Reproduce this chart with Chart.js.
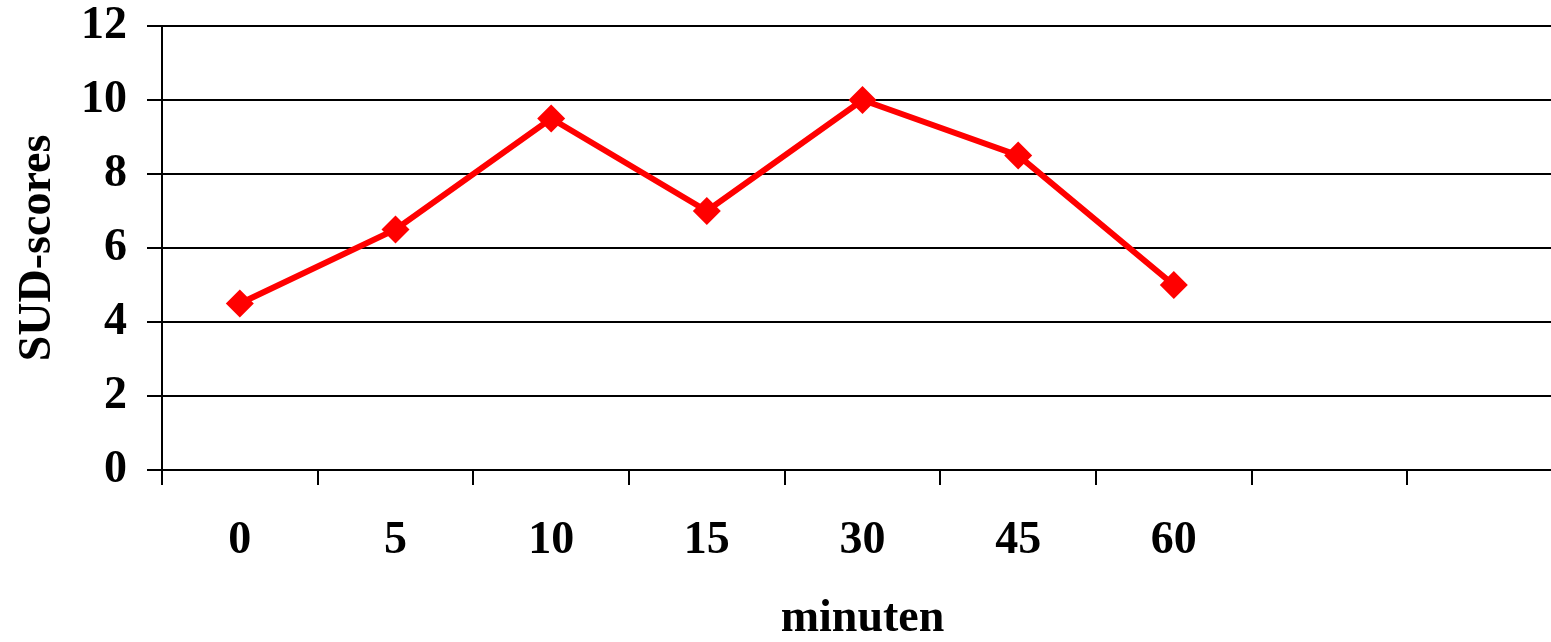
<!DOCTYPE html>
<html>
<head>
<meta charset="utf-8">
<script src="https://cdn.jsdelivr.net/npm/chart.js@4/dist/chart.umd.min.js"></script>
<style>
  html, body { margin: 0; padding: 0; overflow: hidden; background: #fff; }
  canvas { display: block; }
</style>
</head>
<body>
<canvas id="sudChart" width="1577" height="642"></canvas>
<script>
// minutes after start (two empty slots at the end, like the original)
const minutes = ["0", "5", "10", "15", "30", "45", "60", "", ""];
// SUD-scores
const sudScores = [4.5, 6.5, 9.5, 7, 10, 8.5, 5, null, null];
const yTicks = [0, 2, 4, 6, 8, 10, 12];

const serifBold = { family: "'Liberation Serif', 'Times New Roman', serif", size: 46, weight: "bold" };

const ctx = document.getElementById("sudChart").getContext("2d");

new Chart(ctx, {
  type: "line",
  data: {
    labels: minutes,
    datasets: [
      {
        label: "SUD",
        data: sudScores,
        borderColor: "#ff0000",
        backgroundColor: "#ff0000",
        borderWidth: 6,
        pointStyle: "rectRot",
        pointRadius: 14,
        pointBorderWidth: 0,
        tension: 0,
      },
    ],
  },
  options: {
    responsive: false,
    animation: false,
    devicePixelRatio: 1,
    layout: { padding: { top: 26, right: 0, bottom: 0, left: 0 } },
    plugins: {
      legend: { display: false },
      tooltip: { enabled: false },
    },
    scales: {
      x: {
        offset: true,
        grid: {
          offset: true,
          drawOnChartArea: false,
          drawTicks: true,
          tickLength: 15,
          color: "#000",
          lineWidth: 2,
        },
        border: { color: "#000", width: 2 },
        ticks: { color: "#000", font: serifBold, padding: 29, maxRotation: 0, autoSkip: false },
        title: {
          display: true,
          text: "minuten",
          color: "#000",
          font: { ...serifBold, lineHeight: 1 },
          padding: 0,
        },
        afterFit: (scale) => {
          scale.height = 172;
        },
      },
      y: {
        min: 0,
        max: 12,
        afterBuildTicks: (scale) => {
          scale.ticks = yTicks.map((v) => ({ value: v }));
        },
        grid: { color: "#000", lineWidth: 2, tickLength: 15 },
        border: { color: "#000", width: 2 },
        ticks: { color: "#000", font: { ...serifBold, lineHeight: 0.2 }, padding: 20 },
        title: {
          display: true,
          text: "SUD-scores",
          color: "#000",
          font: { ...serifBold, lineHeight: 1 },
          padding: 15,
        },
        afterFit: (scale) => {
          scale.width = 162;
        },
      },
    },
  },
});
</script>
</body>
</html>
